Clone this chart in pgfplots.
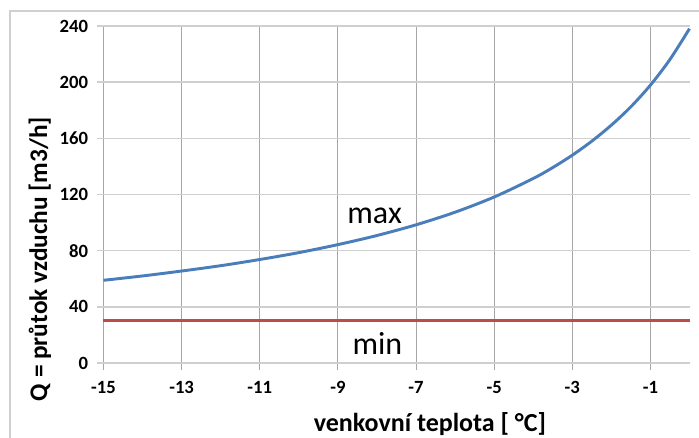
\documentclass[border=0pt]{standalone}
\usepackage{pgfplots}
\pgfplotsset{compat=1.18}
\usepackage{fontspec}
\setmainfont{Carlito}
\definecolor{cblue}{HTML}{4A7EBB}
\definecolor{cred}{HTML}{BE4B48}
\definecolor{vgrid}{HTML}{A6A6A6}
\definecolor{hgrid}{HTML}{CFCFCF}
\definecolor{frame}{HTML}{D0D0D0}
\begin{document}
\begin{tikzpicture}
\useasboundingbox (-77.625pt,-56.25pt) rectangle (446.625pt,272.25pt);
\draw[frame, line width=1pt] (-70.125pt,-70pt) rectangle (460pt,264pt);
\begin{axis}[
  at={(0,0)}, anchor=south west,
  scale only axis, width=439.5pt, height=252.75pt,
  xmin=-15, xmax=0, ymin=0, ymax=240,
  xtick={-15,-13,...,-1}, ytick={0,40,...,240},
  axis line style={draw=none}, tick style={draw=none},
  clip=false,
  /pgf/number format/assume math mode=true,
  ticklabel style={font=\bfseries\fontsize{14}{15}\selectfont},
  xticklabel style={anchor=center, yshift=-18.5pt},
  yticklabel style={anchor=east, xshift=-8pt},
  xlabel={venkovní teplota [ °C]},
  ylabel={Q = průtok vzduchu [m3/h]},
  every axis x label/.style={at={(axis description cs:0.557,-0.181)}, anchor=center, font=\bfseries\fontsize{19.5}{21}\selectfont},
  every axis y label/.style={at={(axis description cs:-0.1084,0.3086)}, anchor=center, rotate=90, font=\bfseries\fontsize{19}{21}\selectfont},
]
\pgfplotsinvokeforeach{-15,-13,...,-1}{
  \draw[vgrid, line width=0.75pt] ([yshift=-5pt]axis cs:#1,0) -- (axis cs:#1,240);
}
\pgfplotsinvokeforeach{0,40,...,240}{
  \draw[hgrid, line width=1.1pt] ([xshift=-5pt]axis cs:-15,#1) -- (axis cs:0,#1);
}
\addplot[cblue, line width=2.2pt, smooth] coordinates {
(-15,58.9) (-14,62.0) (-13,65.5) (-12,69.3) (-11,73.7) (-10,78.6) (-9,84.3)
(-8,90.8) (-7,98.4) (-6,107.4) (-5,118.2) (-4,131.4) (-3.5,139.2) (-3,148.0)
(-2.5,158.0) (-2,169.4) (-1.5,182.5) (-1,197.9) (-0.5,216.2) (0,238.1)
};
\addplot[cred, line width=2.2pt] coordinates {(-15,30) (0,30)};
\node[font=\fontsize{24}{26}\selectfont] at (axis cs:-8.06,105) {max};
\node[font=\fontsize{24}{26}\selectfont] at (axis cs:-7.99,14) {min};
\end{axis}
\end{tikzpicture}
\end{document}
